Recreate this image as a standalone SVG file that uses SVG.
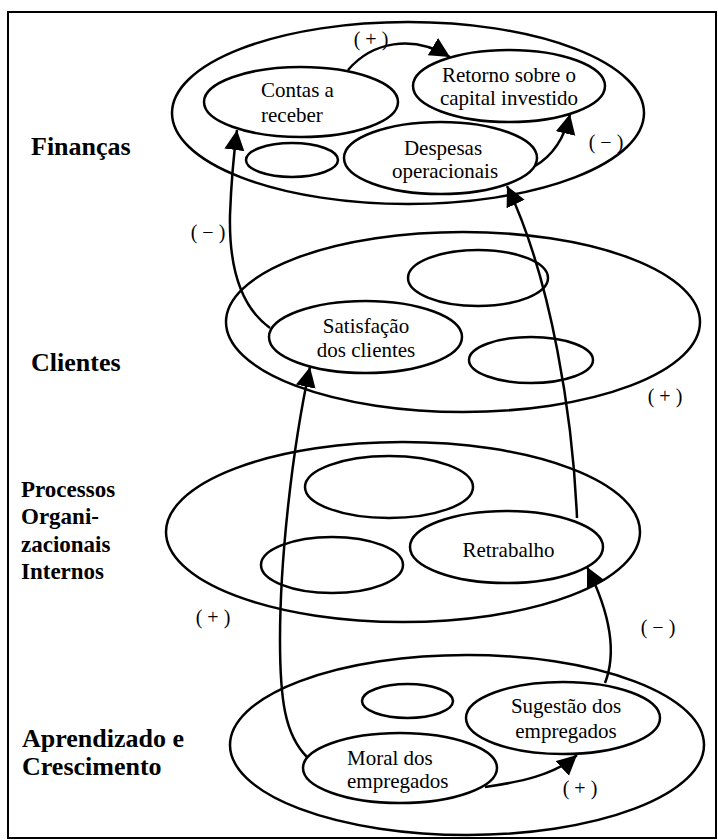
<svg xmlns="http://www.w3.org/2000/svg" width="718" height="840" viewBox="0 0 718 840">
  <style>
    .frame { fill: none; stroke: #000; stroke-width: 2; }
    .ell { fill: none; stroke: #000; stroke-width: 2.5; }
    .node { fill: #fff; stroke: #000; stroke-width: 2.5; }
    .edge { fill: none; stroke: #000; stroke-width: 2.5; marker-end: url(#head); }
    text { font-family: 'Liberation Serif', 'DejaVu Serif', 'Times New Roman', serif; fill: #000; }
    .txt { font-size: 21px; }
    .mid { text-anchor: middle; }
    .sign { font-size: 20px; text-anchor: middle; }
    .persp { font-weight: bold; font-size: 26px; }
    .persp-s { font-weight: bold; font-size: 23px; }
  </style>
  <defs>
    <marker id="head" markerUnits="userSpaceOnUse" markerWidth="22" markerHeight="22" refX="20" refY="10" orient="auto">
      <path d="M0,0 L20,10 L0,20 z" fill="#000"/>
    </marker>
  </defs>

  <rect class="frame" x="8" y="12" width="708" height="826"/>

  <!-- perspective labels -->
  <g font-family="Liberation Serif, DejaVu Serif, serif">
    <text class="persp" x="31" y="155">Finanças</text>
    <text class="persp" x="31" y="371">Clientes</text>
    <text class="persp-s" x="21" y="497">Processos</text>
    <text class="persp-s" x="21" y="524">Organi-</text>
    <text class="persp-s" x="21" y="552">zacionais</text>
    <text class="persp-s" x="21" y="579">Internos</text>
    <text class="persp" x="22" y="747">Aprendizado e</text>
    <text class="persp" x="22" y="775">Crescimento</text>
  </g>

  <!-- Finanças layer -->
  <g id="financas">
    <ellipse class="ell" cx="408" cy="113" rx="236" ry="91"/>
    <g id="contas-a-receber">
      <ellipse class="node" cx="301" cy="102" rx="97" ry="35"/>
      <text class="txt" x="261" y="97">Contas a</text>
      <text class="txt" x="261" y="122">receber</text>
    </g>
    <g id="retorno-capital">
      <ellipse class="node" cx="509" cy="86" rx="96" ry="36"/>
      <text class="txt mid" x="509" y="82">Retorno sobre o</text>
      <text class="txt mid" x="509" y="105">capital investido</text>
    </g>
    <g id="financas-vazio">
      <ellipse class="node" cx="292" cy="160" rx="46" ry="17"/>
    </g>
    <g id="despesas-operacionais">
      <ellipse class="node" cx="440.5" cy="158" rx="96.5" ry="36"/>
      <text class="txt mid" x="443" y="155">Despesas</text>
      <text class="txt mid" x="445" y="178">operacionais</text>
    </g>
  </g>

  <!-- Clientes layer -->
  <g id="clientes">
    <ellipse class="ell" cx="463" cy="322" rx="237" ry="90"/>
    <g id="clientes-vazio-1">
      <ellipse class="node" cx="478" cy="278" rx="70" ry="28"/>
    </g>
    <g id="clientes-vazio-2">
      <ellipse class="node" cx="531" cy="360" rx="62" ry="23"/>
    </g>
    <g id="satisfacao-clientes">
      <ellipse class="node" cx="365.5" cy="337" rx="96.5" ry="36"/>
      <text class="txt mid" x="366" y="333">Satisfação</text>
      <text class="txt mid" x="366" y="357">dos clientes</text>
    </g>
  </g>

  <!-- Processos Organizacionais Internos layer -->
  <g id="processos">
    <ellipse class="ell" cx="403" cy="532" rx="237" ry="90"/>
    <g id="processos-vazio-1">
      <ellipse class="node" cx="389" cy="487" rx="84" ry="31"/>
    </g>
    <g id="processos-vazio-2">
      <ellipse class="node" cx="332" cy="565" rx="71" ry="28"/>
    </g>
    <g id="retrabalho">
      <ellipse class="node" cx="506.5" cy="547" rx="96.5" ry="36"/>
      <text class="txt mid" x="508.5" y="557">Retrabalho</text>
    </g>
  </g>

  <!-- Aprendizado e Crescimento layer -->
  <g id="aprendizado">
    <ellipse class="ell" cx="467" cy="745" rx="237" ry="90"/>
    <g id="aprendizado-vazio">
      <ellipse class="node" cx="407.5" cy="701" rx="45.5" ry="17"/>
    </g>
    <g id="sugestao-empregados">
      <ellipse class="node" cx="563" cy="718" rx="97" ry="36"/>
      <text class="txt mid" x="566" y="713">Sugestão dos</text>
      <text class="txt mid" x="566" y="738">empregados</text>
    </g>
    <g id="moral-empregados">
      <ellipse class="node" cx="400" cy="768" rx="97" ry="35"/>
      <text class="txt" x="347" y="765">Moral dos</text>
      <text class="txt" x="347" y="788">empregados</text>
    </g>
  </g>

  <!-- cause-and-effect links -->
  <g id="connectors">
    <path class="edge" d="M348,70 C372,42 412,34 450,57"/>
    <path class="edge" d="M535,166 C552,156 564,140 570,114"/>
    <path class="edge" d="M577,518 C573,420 552,280 507,186"/>
    <path class="edge" d="M270,328 C238,305 229,262 230,215 C231,188 233,160 237,130"/>
    <path class="edge" d="M307,757 C285,735 280,700 280,640 C280,560 292,450 310,367"/>
    <path class="edge" d="M605,683 C614,660 616,625 587,567"/>
    <path class="edge" d="M485,787 C520,782 555,775 577,755"/>
  </g>

  <!-- link polarity -->
  <text class="sign" x="371" y="46">( + )</text>
  <text class="sign" x="606" y="149">( − )</text>
  <text class="sign" x="208" y="239">( − )</text>
  <text class="sign" x="665" y="403">( + )</text>
  <text class="sign" x="213" y="624">( + )</text>
  <text class="sign" x="658" y="634">( − )</text>
  <text class="sign" x="580" y="795">( + )</text>
</svg>
